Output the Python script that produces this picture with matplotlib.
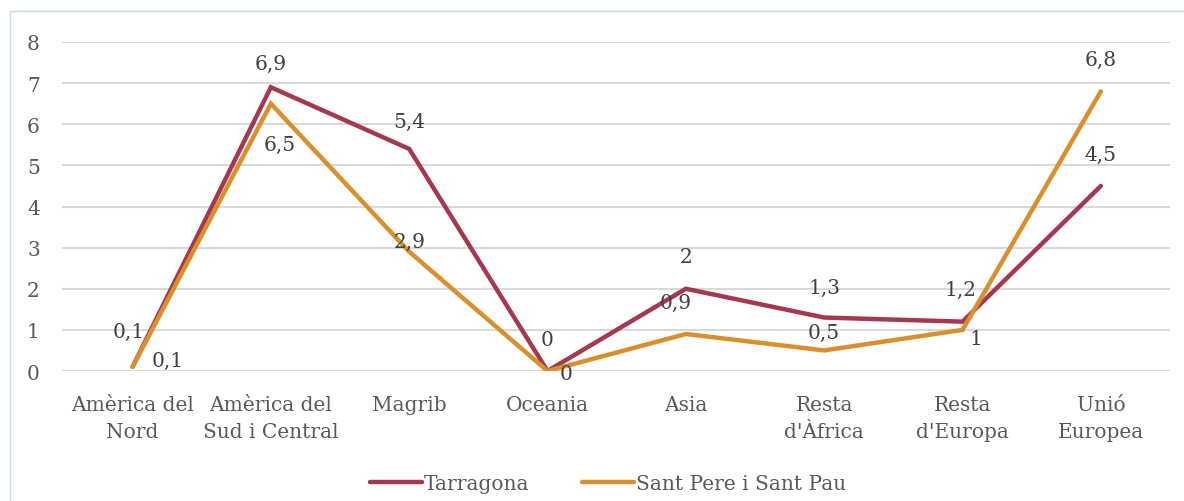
import matplotlib
matplotlib.use("Agg")
import matplotlib.pyplot as plt
from matplotlib.patches import Rectangle

categories = ["Amèrica del\nNord", "Amèrica del\nSud i Central", "Magrib", "Oceania",
              "Asia", "Resta\nd'Àfrica", "Resta\nd'Europa", "Unió\nEuropea"]
tarragona = [0.1, 6.9, 5.4, 0, 2, 1.3, 1.2, 4.5]
sant_pere = [0.1, 6.5, 2.9, 0, 0.9, 0.5, 1, 6.8]
series_names = ["Tarragona", "Sant Pere i Sant Pau"]
yticks = [0, 1, 2, 3, 4, 5, 6, 7, 8]

# label offsets in pixels (dx, dy) -- style only
off_t = [(-4, 35), (0, 24), (0, 28), (0, 32), (0, 32), (0, 30), (-2, 32), (0, 32)]
off_s = [(35, 6), (9, -41), (0, 10), (19, -3), (-10, 32), (0, 18), (13, -9), (0, 32)]

c_t = "#A5374F"
c_s = "#D98F2B"
txt = "#595959"
FS = 14.5

plt.rcParams['font.family'] = ['DejaVu Serif', 'Liberation Serif']
fig = plt.figure(figsize=(11.84, 5.02), dpi=100)
ax = fig.add_axes([62/1184, 1-372/502, (1170-62)/1184, (372-43)/502])

x = list(range(len(categories)))
ax.plot(x, tarragona, color=c_t, lw=3.2, solid_capstyle='round', solid_joinstyle='miter', label=series_names[0], zorder=3)
ax.plot(x, sant_pere, color=c_s, lw=3.2, solid_capstyle='round', solid_joinstyle='miter', label=series_names[1], zorder=3)

def fmt(v):
    s = ("%g" % v).replace(".", ",")
    return s

for vals, offs in ((tarragona, off_t), (sant_pere, off_s)):
    for xi, v, (dx, dy) in zip(x, vals, offs):
        ax.annotate(fmt(v), (xi, v), xytext=(dx*0.72, dy*0.72), textcoords='offset points',
                    ha='center', va='center', fontsize=FS, color="#404040", zorder=4)

ax.set_xlim(-0.51, 7.5)
ax.set_ylim(0, 8)
ax.set_yticks(yticks)
ax.set_yticklabels([str(t) for t in yticks])
ax.set_xticks(x)
ax.set_xticklabels(categories, linespacing=1.55)
ax.yaxis.grid(True, color="#D9D9D9", lw=1.5)
ax.set_axisbelow(True)
for s in ax.spines.values():
    s.set_visible(False)
ax.tick_params(axis='both', length=0, labelsize=FS, colors=txt)
ax.tick_params(axis='y', pad=16)
ax.tick_params(axis='x', pad=17)

leg = fig.legend(loc='center', bbox_to_anchor=(608/1184, 1-485/502), ncol=2, frameon=False,
                 fontsize=FS, handlelength=2.6, handletextpad=0.1, columnspacing=2.6)
for t in leg.get_texts():
    t.set_color(txt)

fig.patches.append(Rectangle((10/1184, -0.1), 1.2, 1-12/502+0.1, transform=fig.transFigure,
                             fill=False, edgecolor="#C6D9F0", lw=1))
fig.savefig("out.png", dpi=100)
